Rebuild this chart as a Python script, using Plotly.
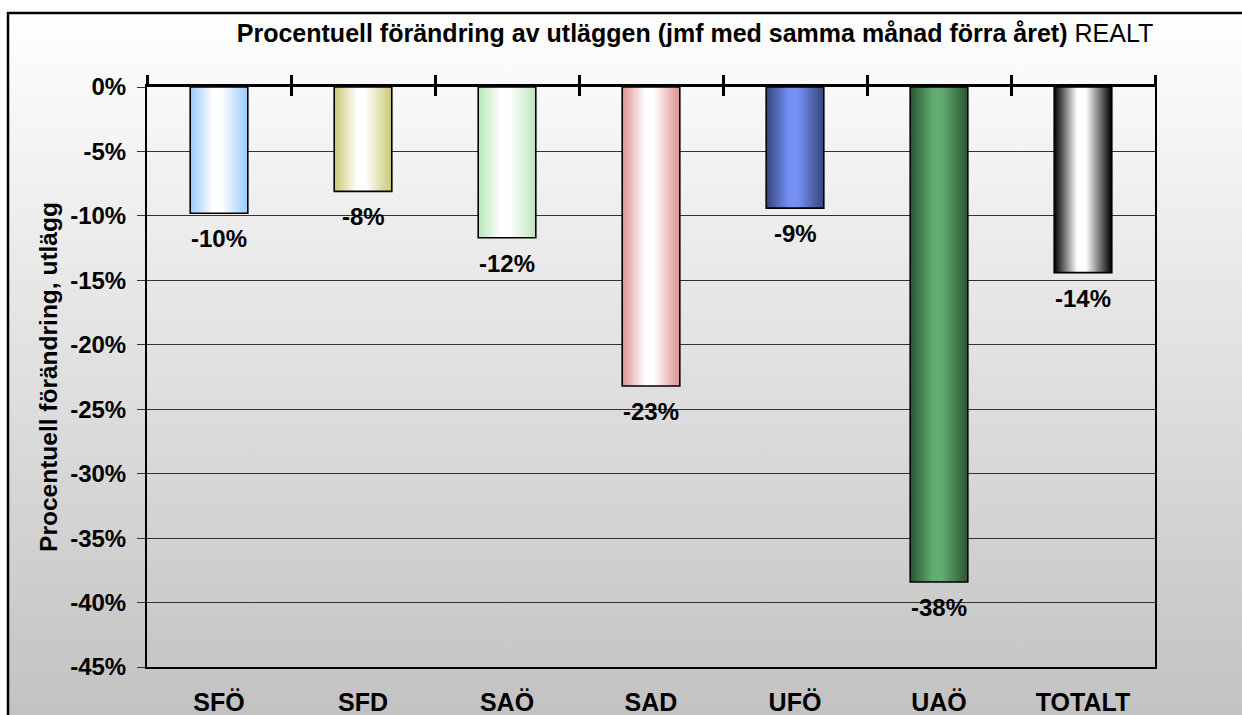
import base64
import plotly.graph_objects as go

# ---- data ----
categories = ["SFÖ", "SFD", "SAÖ", "SAD", "UFÖ", "UAÖ", "TOTALT"]
values = [-9.8, -8.1, -11.7, -23.2, -9.4, -38.4, -14.4]
edge_colors = ["#99c9ff", "#c9c872", "#b9e6b9", "#df8f90", "#34447c", "#2b5534", "#000000"]
center_colors = ["#ffffff", "#ffffff", "#ffffff", "#ffffff", "#7590f5", "#62ad72", "#ffffff"]
ytick_vals = [0, -5, -10, -15, -20, -25, -30, -35, -40, -45]
ytick_text = ["0%", "-5%", "-10%", "-15%", "-20%", "-25%", "-30%", "-35%", "-40%", "-45%"]

title_bold = "Procentuell förändring av utläggen (jmf med samma månad förra året)"
title_plain = "REALT"
ytitle = "Procentuell förändring, utlägg"

FONT = "Liberation Sans, Arial, sans-serif"
W, H = 1242, 715
ML, MR, MT, MB = 147, 87, 87, 48
PW, PH = W - ML - MR, H - MT - MB
bar_w = 0.4

fig = go.Figure()

# gradient bars drawn as filled rectangles on the data axes
for i, (v, ec, cc) in enumerate(zip(values, edge_colors, center_colors)):
    fig.add_trace(go.Scatter(
        x=[i - bar_w / 2, i + bar_w / 2, i + bar_w / 2, i - bar_w / 2, i - bar_w / 2],
        y=[0, 0, v, v, 0],
        mode="lines", fill="toself",
        fillgradient=dict(type="horizontal",
                          colorscale=[[0, ec], [0.4, cc], [0.55, cc], [1, ec]]),
        line=dict(color="black", width=1.6),
        hoverinfo="skip", showlegend=False,
    ))

# dummy traces to hold the top crossing-tick axes
for ax in ["x2", "x3"]:
    fig.add_trace(go.Scatter(x=[-0.5, 6.5], y=[0, 0], xaxis=ax, yaxis="y",
                             mode="markers", marker=dict(size=0.1, opacity=0),
                             hoverinfo="skip", showlegend=False))

# value labels below each bar
for i, v in enumerate(values):
    fig.add_annotation(x=i, y=v, xref="x", yref="y", text=f"{v:.0f}%",
                       showarrow=False, yanchor="top", yshift=-10,
                       font=dict(family=FONT, size=24, color="black", weight="bold"))

# background gradient
svg = ('<svg xmlns="http://www.w3.org/2000/svg" width="100" height="100" viewBox="0 0 100 100" '
       'preserveAspectRatio="none"><defs><linearGradient id="g" x1="0" y1="0" x2="0" y2="1">'
       '<stop offset="0" stop-color="#ffffff"/><stop offset="1" stop-color="#c1c1c1"/>'
       '</linearGradient></defs><rect width="100" height="100" fill="url(#g)"/></svg>')
uri = "data:image/svg+xml;base64," + base64.b64encode(svg.encode()).decode()
fx0 = (8 - ML) / PW
fy1 = (H - MB - 13) / PH
fig.add_layout_image(dict(source=uri, xref="paper", yref="paper", x=fx0, y=fy1,
                          sizex=(W - 8) / PW + 0.02, sizey=(H - 13) / PH + 0.02,
                          xanchor="left", yanchor="top", sizing="stretch", layer="below"))
fig.add_shape(type="rect", xref="paper", yref="paper", x0=fx0, x1=1.5,
              y0=-0.5, y1=fy1, line=dict(color="black", width=2.5),
              fillcolor="rgba(0,0,0,0)", layer="above")

bound = [i - 0.5 for i in range(len(categories) + 1)]

fig.update_layout(
    width=W, height=H, autosize=False,
    margin=dict(l=ML, r=MR, t=MT, b=MB, pad=0, autoexpand=False),
    paper_bgcolor="white", plot_bgcolor="rgba(0,0,0,0)",
    font=dict(family=FONT, color="black"),
    title=dict(text=f"<b>{title_bold}</b> {title_plain}", x=(695 - ML) / PW, xref="paper",
               xanchor="center", y=1 - 33 / H, yref="container", yanchor="middle",
               font=dict(family=FONT, size=25, color="black")),
    xaxis=dict(range=[-0.5, 6.5], tickvals=list(range(len(categories))), ticktext=categories,
               ticks="", showgrid=False, zeroline=False, showline=True, linewidth=2,
               linecolor="black", ticklabelstandoff=12, automargin=False,
               tickfont=dict(family=FONT, size=25, color="black", weight="bold")),
    xaxis2=dict(overlaying="x", side="top", anchor="y", range=[-0.5, 6.5], tickvals=bound,
                ticks="outside", ticklen=9, tickwidth=3, tickcolor="black",
                showticklabels=False, showgrid=False, zeroline=False, automargin=False,
                showline=True, linewidth=3, linecolor="black"),
    xaxis3=dict(overlaying="x", side="top", anchor="y", range=[-0.5, 6.5], tickvals=bound,
                ticks="inside", ticklen=9, tickwidth=3, tickcolor="black", automargin=False,
                showticklabels=False, showgrid=False, zeroline=False, showline=False),
    yaxis=dict(range=[-45, 0], tickvals=ytick_vals, ticktext=ytick_text,
               ticks="outside", ticklen=8, tickwidth=1, tickcolor="#333",
               showgrid=True, gridcolor="#333", gridwidth=1, zeroline=False,
               showline=True, linewidth=2, linecolor="black", mirror=True,
               ticklabelstandoff=6, automargin=False,
               tickfont=dict(family=FONT, size=24, color="black", weight="bold")),
)
fig.update_yaxes(title=dict(text=f"<b>{ytitle}</b>", standoff=6,
                            font=dict(family=FONT, size=24.5, color="black")))

fig.write_html("out.html",
               config={"displayModeBar": False},
               post_script="document.body.style.margin='0';"
                           "document.documentElement.style.overflow='hidden';"
                           "document.body.style.overflow='hidden';")
